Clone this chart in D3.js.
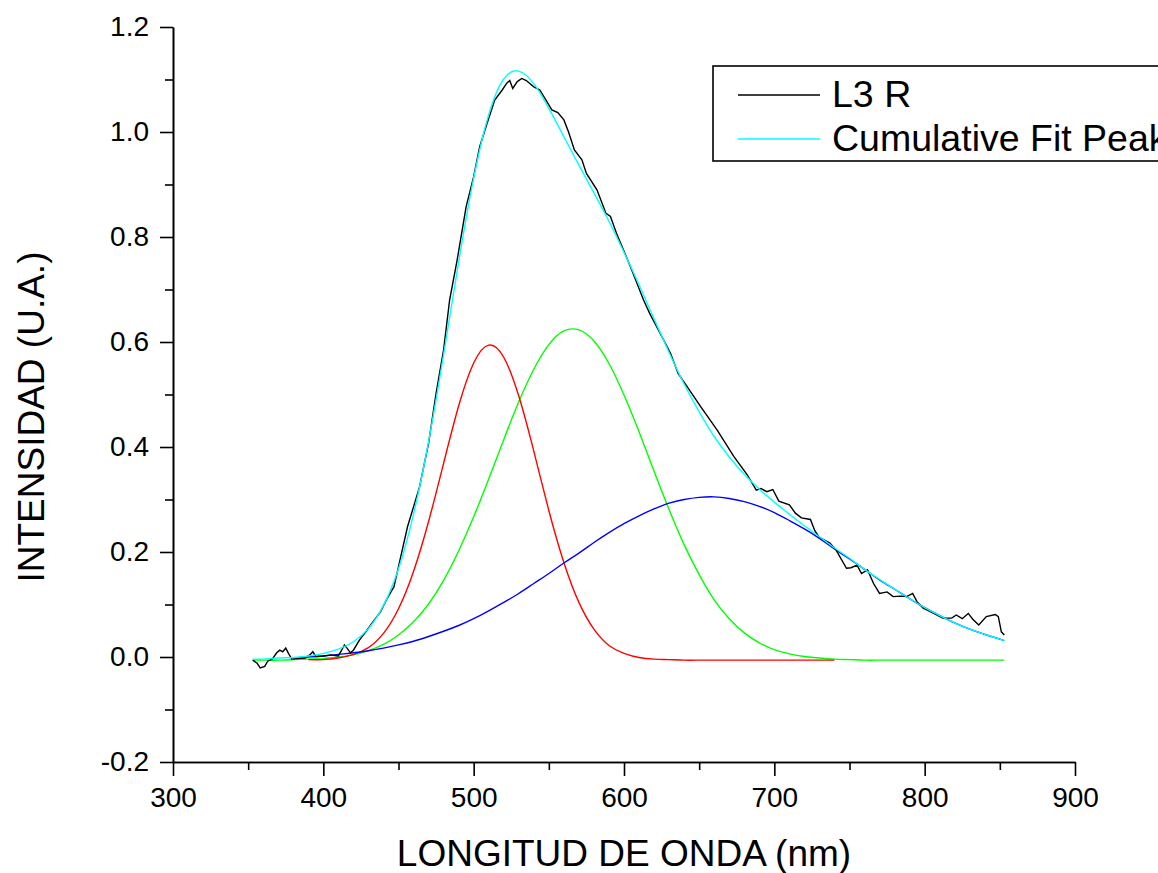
<!DOCTYPE html>
<html>
<head>
<meta charset="utf-8">
<script src="https://cdn.jsdelivr.net/npm/d3@7"></script>
<style>
  body { margin: 0; background: #fff; }
  svg { display: block; font-family: Arial, "Liberation Sans", sans-serif; }
</style>
</head>
<body>
<svg id="chart" width="1158" height="873"></svg>
<script>
// tick labels
var xTicks = [300, 400, 500, 600, 700, 800, 900];
var xMinor = [350, 450, 550, 650, 750, 850];
var yTicks = [-0.2, 0.0, 0.2, 0.4, 0.6, 0.8, 1.0, 1.2];
var yMinor = [-0.1, 0.1, 0.3, 0.5, 0.7, 0.9, 1.1];

// measured spectrum "L3 R"
var dataNm = [353, 356, 358, 361, 363, 366, 369, 371, 373, 375, 377, 379, 383, 388, 391, 393, 395, 400, 405, 410,
    412, 414, 416, 418, 420, 424, 429, 433, 438, 442, 447, 450, 456, 464, 470, 475, 480, 484, 489, 492,
    495, 500, 504, 509, 514, 519, 522, 524, 526, 529, 532, 535, 540, 544, 548, 552, 556, 560, 563, 567,
    572, 575, 582, 588, 591, 595, 601, 606, 613, 617, 624, 631, 636, 642, 651, 662, 673, 682, 688, 691,
    695, 699, 703, 710, 714, 718, 724, 727, 730, 737, 741, 748, 751, 755, 758, 762, 766, 770, 775, 779,
    784, 788, 792, 795, 799, 806, 812, 818, 821, 825, 829, 832, 836, 841, 847, 849, 851, 853];
var dataVal = [-0.006, -0.012, -0.021, -0.018, -0.008, -0.004, 0.008, 0.013, 0.010, 0.017, 0.006, -0.004, -0.003, -0.002, 0.004, 0.010, 0.001, 0.002, 0.004, 0.002,
    0.012, 0.023, 0.016, 0.008, 0.013, 0.032, 0.051, 0.067, 0.086, 0.109, 0.134, 0.172, 0.248, 0.324, 0.407, 0.502, 0.585, 0.680, 0.756, 0.807,
    0.858, 0.915, 0.972, 1.017, 1.061, 1.080, 1.093, 1.098, 1.083, 1.096, 1.102, 1.098, 1.086, 1.080, 1.061, 1.042, 1.037, 1.023, 1.001, 0.966,
    0.947, 0.921, 0.890, 0.845, 0.839, 0.807, 0.766, 0.731, 0.680, 0.655, 0.617, 0.578, 0.540, 0.515, 0.477, 0.432, 0.382, 0.347, 0.318, 0.321,
    0.315, 0.319, 0.297, 0.290, 0.274, 0.265, 0.262, 0.240, 0.228, 0.217, 0.204, 0.169, 0.170, 0.175, 0.159, 0.166, 0.140, 0.121, 0.124, 0.115,
    0.116, 0.115, 0.121, 0.105, 0.093, 0.083, 0.074, 0.074, 0.080, 0.073, 0.083, 0.072, 0.061, 0.077, 0.081, 0.077, 0.048, 0.042];

// fitted peaks, read on a common wavelength grid (null = not drawn)
var fitNm = [353, 360, 370, 380, 390, 400, 410, 420, 430, 440, 450, 460, 470, 480, 490, 500, 510, 520, 530, 540,
    550, 560, 570, 580, 590, 600, 610, 620, 630, 640, 650, 660, 670, 680, 690, 700, 710, 720, 730, 740,
    750, 760, 770, 780, 790, 800, 810, 820, 830, 840, 850, 853];
var peakRed = [null, null, null, null, -0.005, -0.005, -0.002, 0.005, 0.018, 0.045, 0.092, 0.163, 0.258, 0.369, 0.478, 0.560, 0.594, 0.571, 0.497, 0.392,
    0.279, 0.180, 0.104, 0.053, 0.022, 0.007, -0.001, -0.004, -0.005, -0.006, -0.006, -0.006, -0.006, -0.006, -0.006, -0.006, -0.006, -0.006, -0.006, -0.006,
    null, null, null, null, null, null, null, null, null, null, null, null];
var peakGreen = [-0.006, -0.006, -0.006, -0.005, -0.004, -0.003, 0.000, 0.004, 0.012, 0.024, 0.042, 0.067, 0.101, 0.146, 0.202, 0.267, 0.339, 0.414, 0.486, 0.548,
    0.595, 0.621, 0.623, 0.602, 0.559, 0.499, 0.429, 0.354, 0.281, 0.214, 0.157, 0.109, 0.073, 0.046, 0.027, 0.014, 0.006, 0.001, -0.002, -0.004,
    -0.005, -0.006, -0.006, -0.006, -0.006, -0.006, -0.006, -0.006, -0.006, -0.006, -0.006, -0.006];
var peakBlue = [null, null, null, -0.002, 0.000, 0.002, 0.005, 0.008, 0.012, 0.017, 0.023, 0.030, 0.039, 0.049, 0.060, 0.073, 0.088, 0.104, 0.121, 0.140,
    0.159, 0.179, 0.198, 0.218, 0.237, 0.254, 0.269, 0.282, 0.293, 0.300, 0.304, 0.305, 0.302, 0.296, 0.287, 0.275, 0.260, 0.244, 0.226, 0.206,
    0.187, 0.167, 0.147, 0.129, 0.111, 0.094, 0.079, 0.065, 0.053, 0.043, 0.034, 0.031];
var cumulative = [-0.004, -0.004, -0.002, -0.001, 0.002, 0.007, 0.015, 0.029, 0.054, 0.098, 0.168, 0.272, 0.410, 0.576, 0.752, 0.912, 1.033, 1.101, 1.116, 1.092,
    1.045, 0.991, 0.937, 0.884, 0.830, 0.771, 0.709, 0.644, 0.580, 0.520, 0.467, 0.420, 0.381, 0.348, 0.320, 0.295, 0.272, 0.250, 0.229, 0.208,
    0.188, 0.167, 0.148, 0.129, 0.111, 0.094, 0.079, 0.065, 0.053, 0.043, 0.034, 0.031];

var svg = d3.select("#chart");

var x = d3.scaleLinear().domain([300, 900]).range([173, 1075]);
var y = d3.scaleLinear().domain([-0.2, 1.2]).range([762, 27]);

function styleAxis(g) {
    g.select(".domain").attr("stroke", "#000").attr("stroke-width", 1.6);
    g.selectAll(".tick line").attr("stroke", "#000").attr("stroke-width", 1.6);
    g.selectAll(".tick text").attr("fill", "#000").style("font-size", "28px");
}

// minor ticks first, then major axes on top
svg.append("g")
    .attr("transform", "translate(0,762)")
    .call(d3.axisBottom(x).tickValues(xMinor).tickSize(8).tickSizeOuter(0).tickFormat(""))
    .call(styleAxis);
svg.append("g")
    .attr("transform", "translate(173,0)")
    .call(d3.axisLeft(y).tickValues(yMinor).tickSize(8).tickSizeOuter(0).tickFormat(""))
    .call(styleAxis);

svg.append("g")
    .attr("transform", "translate(0,762)")
    .call(d3.axisBottom(x).tickValues(xTicks).tickSize(14).tickPadding(11).tickSizeOuter(0)
        .tickFormat(function(d) { return String(d); }))
    .call(styleAxis);
svg.append("g")
    .attr("transform", "translate(173,0)")
    .call(d3.axisLeft(y).tickValues(yTicks).tickSize(13).tickPadding(11).tickSizeOuter(0)
        .tickFormat(function(d) { return (Math.abs(d) < 1e-9 ? 0 : d).toFixed(1); }))
    .call(styleAxis);

// axis titles
svg.append("text")
    .attr("x", 624)
    .attr("y", 866)
    .attr("text-anchor", "middle")
    .style("font-size", "37px")
    .text("LONGITUD DE ONDA (nm)");
svg.append("text")
    .attr("transform", "translate(44,417) rotate(-90)")
    .attr("text-anchor", "middle")
    .style("font-size", "37px")
    .text("INTENSIDAD (U.A.)");

// curves
var fitLine = function(vals) {
    return d3.line()
        .defined(function(d, i) { return vals[i] !== null; })
        .x(function(d) { return x(d); })
        .y(function(d, i) { return y(vals[i]); })
        .curve(d3.curveNatural)(fitNm);
};

var plot = svg.append("g").attr("fill", "none").attr("stroke-width", 1.4);

plot.append("path").attr("d", fitLine(peakGreen)).attr("stroke", "#00ff00");
plot.append("path").attr("d", fitLine(peakRed)).attr("stroke", "#ff0000");
plot.append("path").attr("d", fitLine(peakBlue)).attr("stroke", "#0000ff");

var dataLine = d3.line()
    .x(function(d) { return x(d); })
    .y(function(d, i) { return y(dataVal[i]); });
plot.append("path").attr("d", dataLine(dataNm)).attr("stroke", "#000");

plot.append("path").attr("d", fitLine(cumulative)).attr("stroke", "#00ffff");

// legend (runs past the right edge, as in the original)
var legend = svg.append("g");
legend.append("rect")
    .attr("x", 713).attr("y", 66)
    .attr("width", 470).attr("height", 95)
    .attr("fill", "#fff")
    .attr("stroke", "#000")
    .attr("stroke-width", 1.6);

var legendItems = [
    { label: "L3 R", color: "#000" },
    { label: "Cumulative Fit Peak", color: "#00ffff" }
];
legendItems.forEach(function(item, i) {
    var ly = 95 + i * 44;
    legend.append("line")
        .attr("x1", 738).attr("x2", 820)
        .attr("y1", ly).attr("y2", ly)
        .attr("stroke", item.color)
        .attr("stroke-width", 1.4);
    legend.append("text")
        .attr("x", 832)
        .attr("y", ly + 12)
        .style("font-size", "37.5px")
        .text(item.label);
});
</script>
</body>
</html>
